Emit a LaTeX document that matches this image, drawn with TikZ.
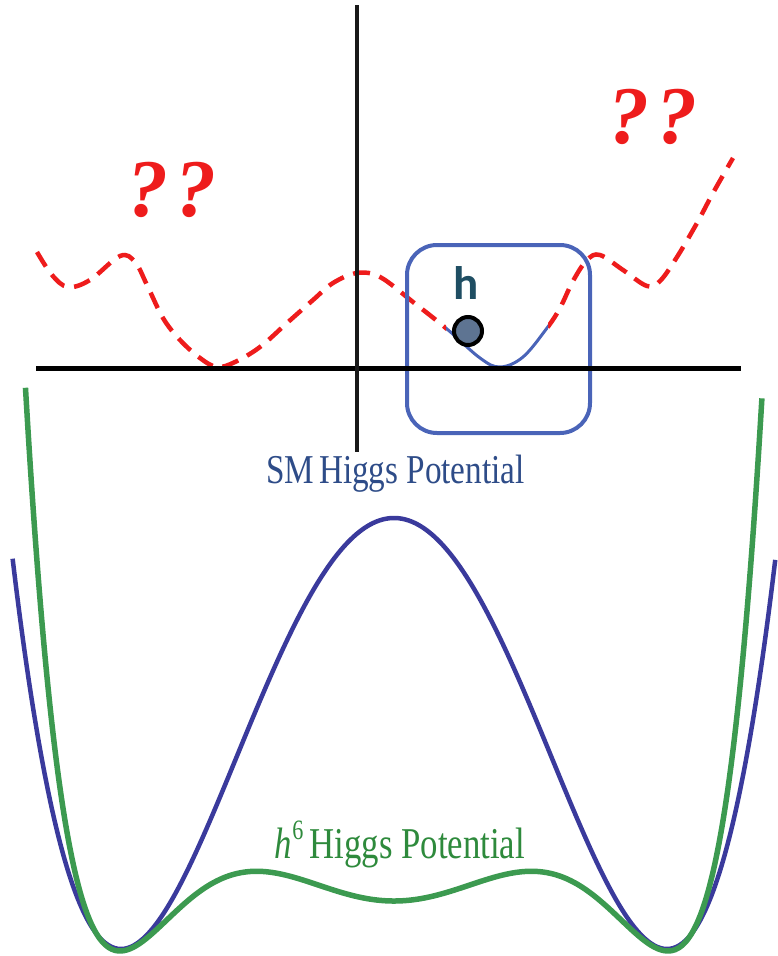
\documentclass[tikz,border=0pt]{standalone}
\usepackage{fontspec}
\setmainfont{Liberation Serif}
\newfontfamily\calib{Carlito}
\usepackage{graphicx}
\definecolor{qred}{HTML}{EE1C1C}
\definecolor{boxblue}{HTML}{4A64B8}
\definecolor{hteal}{HTML}{1F4E63}
\definecolor{ballfill}{HTML}{5E7492}
\definecolor{smblue}{HTML}{3A3A9C}
\definecolor{hsgreen}{HTML}{3C9A50}
\definecolor{smtext}{HTML}{2E4C88}
\definecolor{hstext}{HTML}{2E8A3C}
\tikzset{
  reddash/.style={draw=qred, line width=4.5pt, dash pattern=on 17pt off 10pt},
  axisline/.style={draw=black, line width=5pt},
  smcurve/.style={draw=smblue, line width=4.5pt},
  hscurve/.style={draw=hsgreen, line width=5.5pt},
  qmark/.style={text=qred, font=\fontsize{82}{82}\selectfont\bfseries\itshape, inner sep=0pt},
}
\begin{document}
\begin{tikzpicture}[x=1pt,y=-1pt]
\useasboundingbox (0,0) rectangle (777,956);
\def\redpts{(37,252) (52,275) (68,287) (90,280) (120,256) (135,262) (147,285) (163,318) (180,340) (200,358) (217,367) (235,362) (260,347) (287,323) (313,300) (333,283) (357,273) (380,277) (413,302) (447,329) (480,358) (500,367) (523,357) (547,328) (560,308) (573,281) (587,260) (600,255) (623,270) (647,286) (660,281) (677,257) (697,223) (713,193) (733,158)}
% red dashed potential
\begin{scope}
  \clip (0,0) rectangle (446,956) (548,0) rectangle (777,956);
  \draw[reddash] plot[smooth, tension=0.6] coordinates {\redpts};
\end{scope}
\begin{scope}
  \clip (446,0) rectangle (548,956);
  \draw[draw=boxblue, line width=3pt] plot[smooth, tension=0.6] coordinates {\redpts};
\end{scope}
% box
\draw[draw=boxblue, line width=4pt, rounded corners=30pt] (407,245) rectangle (590,433);
% axes
\draw[axisline] (36,368) coordinate (xl) -- (741,368) coordinate (xr);
\draw[draw=black!90, line width=3.5pt] (357,5) coordinate (yt) -- (357,452) coordinate (yb);
% ball and label
\node[circle, draw=black, line width=4pt, fill=ballfill, minimum size=28pt, inner sep=0pt] (ball) at (468,331) {};
\node[anchor=base, text=hteal, font=\calib\bfseries\fontsize{47}{47}\selectfont, inner sep=0pt] (hlab) at (466,299) {h};
% question marks
\node[qmark] (qleft) at (172,190) {?\kern8pt?};
\node[qmark] (qright) at (653,117) {?\kern8pt?};
% bottom curves
\draw[smcurve] plot[domain=-1.397:1.397, samples=240, smooth] ({394+273*\x},{949-431*(\x*\x-1)*(\x*\x-1)});
\draw[hscurve] plot[domain=-1.345:1.345, samples=240, smooth] ({394+274*\x},{951-(\x*\x-1)*(\x*\x-1)*(50+354*\x*\x+52*\x*\x*\x*\x)});
% labels
\node[anchor=base, text=smtext, inner sep=0pt] (smlab) at (395.5,483) {\scalebox{0.81}[1]{\fontsize{41}{41}\selectfont SM\hspace{6pt}Higgs Potential}};
\node[anchor=base, text=hstext, inner sep=0pt] (hslab) at (400,858) {\scalebox{0.79}[1]{\fontsize{44}{44}\selectfont\textit{h}\raisebox{0.42em}{\fontsize{28}{28}\selectfont 6}\hspace{8pt}Higgs Potential}};
\end{tikzpicture}
\end{document}
